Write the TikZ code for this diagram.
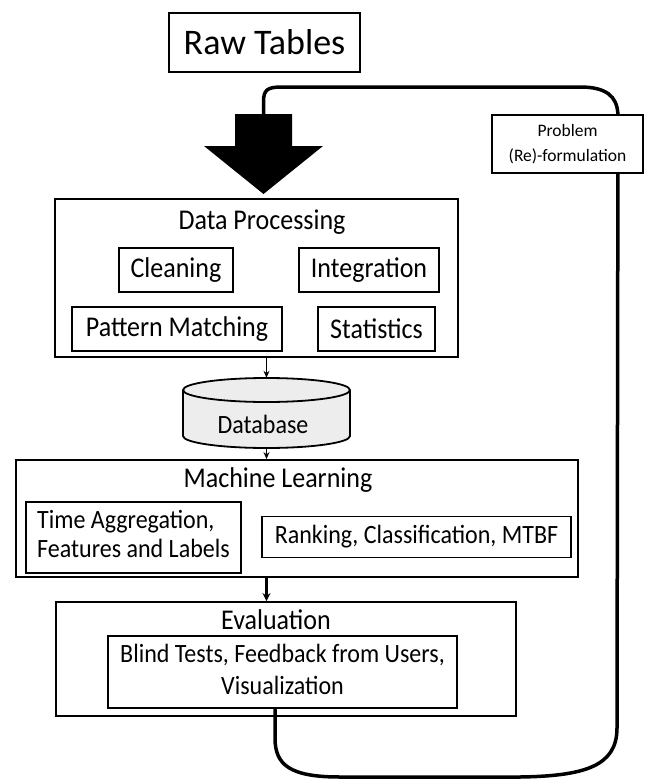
\documentclass[tikz,border=0pt]{standalone}
\usepackage{fontspec}
\usepackage{graphicx}
\setmainfont{Carlito}
\usetikzlibrary{arrows.meta}
\newcommand{\vst}[1]{\scalebox{1}[1.1]{#1}}
\newcommand{\vstt}[1]{\scalebox{1}[1.1]{\begin{tabular}{@{}c@{}}#1\end{tabular}}}
\newcommand{\vstl}[1]{\scalebox{1}[1.1]{\begin{tabular}{@{}l@{}}#1\end{tabular}}}
\begin{document}
\begin{tikzpicture}[x=1pt,y=-1pt,
  box/.style={draw=black, line width=1.8pt, fill=white, inner sep=0pt, align=center},
  fA/.style={font=\fontsize{26}{30}\selectfont},
  fB/.style={font=\fontsize{24}{26.4}\selectfont},
  fC/.style={font=\fontsize{17.5}{25}\selectfont, align=center},
  loopline/.style={line width=3.5pt, line cap=round},
  thinarrow/.style={line width=1.4pt, -{Stealth[length=7pt,width=6pt]}},
  thickarrow/.style={line width=2.6pt, -{Stealth[length=8pt,width=8pt]}}
]
\useasboundingbox (0,0) rectangle (647,779);

% Raw tables
\node[box, minimum width=191, minimum height=59, font=\fontsize{36}{40}\selectfont] (raw) at (264.5,42.5) {Raw Tables};

% Problem (Re)-formulation
\node[box, fC, minimum width=151, minimum height=58] (prob) at (567.5,144) {Problem\\(Re)-formulation};

% big arrow
\fill (235,114) -- (292,114) -- (292,146) -- (323,146) -- (263.5,194) -- (204,146) -- (235,146) -- cycle;
\coordinate (atop) at (263.5,114);

% Data processing
\node[box, minimum width=403, minimum height=158] (dp) at (256.5,278) {};
\node[fA] (dpt) at (262,222) {\vst{Data Processing}};
\node[box, fA, minimum width=114, minimum height=44] (clean) at (176,270) {\vst{Cleaning}};
\node[box, fA, minimum width=140, minimum height=44] (integ) at (369,270) {\vst{Integration}};
\node[box, fA, minimum width=210, minimum height=44] (pm) at (177,329) {\vst{Pattern Matching}};
\node[box, fA, minimum width=117, minimum height=44] (stat) at (376.5,329) {\vst{Statistics}};

% Database cylinder
\node[minimum width=167, minimum height=70, inner sep=0pt] (db) at (266.5,413) {};
\filldraw[fill=black!7, line width=1.8pt] (183,390) -- (183,436) arc[start angle=180, end angle=0, x radius=83.5, y radius=12]
  -- (350,390) arc[start angle=0, end angle=-180, x radius=83.5, y radius=12] -- cycle;
\draw[line width=1.8pt] (183,390) arc[start angle=180, end angle=0, x radius=83.5, y radius=12];
\node[fB] (dbt) at (263,424) {\vst{Database}};

% Machine learning
\node[box, minimum width=562, minimum height=117] (ml) at (297,518.5) {};
\node[fA] (mlt) at (278,480) {\vst{Machine Learning}};
\node[box, fB, minimum width=215, minimum height=71] (tagg) at (133.5,537.5) {\vstl{Time Aggregation,\\Features and Labels}};
\node[box, fB, minimum width=309, minimum height=41] (rank) at (416.5,537) {\vst{Ranking, Classification, MTBF}};

% Evaluation
\node[box, minimum width=460, minimum height=114] (ev) at (286,659) {};
\node[fA] (evt) at (276,620) {\vst{Evaluation}};
\node[box, minimum width=349, minimum height=72, font=\fontsize{24}{29}\selectfont] (blind) at (282.5,672) {\vstt{Blind Tests, Feedback from Users,\\Visualization}};

% arrows
\draw[thinarrow] (dp.south -| db.north) -- (db.north);
\draw[thinarrow] (db.south) -- (db.south |- ml.north);
\draw[thickarrow] (db.south |- ml.south) -- (db.south |- ev.north);

% feedback loop
\draw[loopline] (atop) -- (263.5,102) .. controls (263.5,90) and (267,87) .. (282,87) -- (580,87)
  .. controls (606,87) and (617,96) .. ([xshift=-26pt]prob.north east);
\draw[loopline] ([xshift=-26pt]prob.south east) -- (617,728) .. controls (617,766) and (585,776) .. (520,777)
  -- (340,777) .. controls (290,777) and (275,765) .. (275,738) -- ([xshift=-7.5pt]blind.south);
\end{tikzpicture}
\end{document}
